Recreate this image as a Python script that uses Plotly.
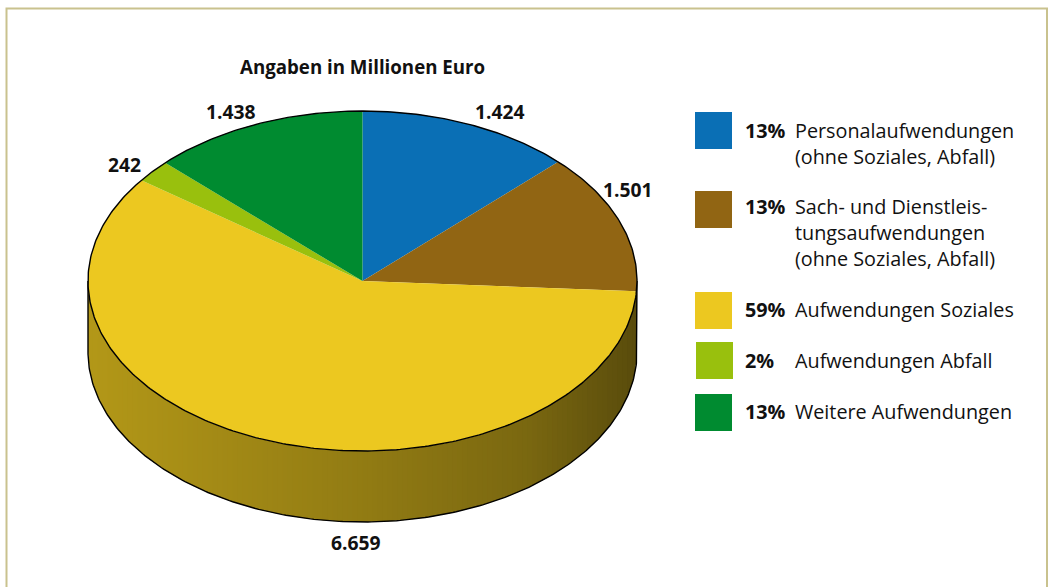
import numpy as np
import plotly.graph_objects as go

categories = ["Personalaufwendungen", "Sach- und Dienstleistungsaufwendungen", "Aufwendungen Soziales", "Aufwendungen Abfall", "Weitere Aufwendungen"]
values = [1424, 1501, 6659, 242, 1438]
percent_labels = ["13%", "13%", "59%", "2%", "13%"]
legend_lines = [
    ["Personalaufwendungen", "(ohne Soziales, Abfall)"],
    ["Sach- und Dienstleis-", "tungsaufwendungen", "(ohne Soziales, Abfall)"],
    ["Aufwendungen Soziales"],
    ["Aufwendungen Abfall"],
    ["Weitere Aufwendungen"],
]
colors = ["#0a6fb5", "#916513", "#ecc820", "#99c00d", "#008b30"]
title = "Angaben in Millionen Euro"

FONT = "Open Sans"
FS = 19.8
cx, cy, rx, ry, depth = 362.5, 281.0, 274.5, 170.0, 71.0
label_pos = [(500, 111), (628, 189), (356, 542), (124, 164), (231, 111)]
swatch_pos = [(695, 112), (695, 191), (695, 292), (696, 342), (695, 394)]
text_y = [130.5, 206.5, 309.5, 360, 411.5]
swatch_size = 37
line_step = 26

fig = go.Figure()


def ex(theta):
    return cx + rx * np.sin(theta)


def ey(theta):
    return cy - ry * np.cos(theta)


# side wall: shaded strips, slice colour per strip
stops_x = np.array([-1.0, 0.0, 0.6, 1.0])
stops_f = np.array([0.76, 0.62, 0.52, 0.38])
edges = np.cumsum([0] + values) / sum(values) * 2 * np.pi
n = 110
ts = np.linspace(-1, 1, n + 1)
base = np.array([int(colors[2][i:i + 2], 16) for i in (1, 3, 5)])
for i in range(n):
    t0, t1 = ts[i], min(ts[i + 1] + 0.004, 1)
    tt = np.linspace(t0, t1, 4)
    xs = cx + rx * tt
    ys = cy + ry * np.sqrt(np.clip(1 - tt ** 2, 0, 1))
    px = np.concatenate([xs, xs[::-1]])
    py = np.concatenate([ys, ys[::-1] + depth])
    f = np.interp((t0 + t1) / 2, stops_x, stops_f)
    r, g, b = (base * f).astype(int)
    fig.add_trace(go.Scatter(x=px, y=py, mode="lines", fill="toself", line=dict(width=0),
                             fillcolor=f"rgb({r},{g},{b})", hoverinfo="skip", showlegend=False))

# side outline
th = np.linspace(np.pi / 2, 3 * np.pi / 2, 240)
ox = np.concatenate([[ex(np.pi / 2)], ex(th), [ex(3 * np.pi / 2)]])
oy = np.concatenate([[cy], ey(th) + depth, [cy]])
fig.add_trace(go.Scatter(x=ox, y=oy, mode="lines", line=dict(color="#000000", width=1.4),
                         hoverinfo="skip", showlegend=False))

# top slices
for i, col in enumerate(colors):
    a = np.linspace(edges[i], edges[i + 1], 120)
    fig.add_trace(go.Scatter(x=np.r_[cx, ex(a), cx], y=np.r_[cy, ey(a), cy], mode="lines",
                             fill="toself", fillcolor=col, line=dict(width=0),
                             name=categories[i], hoverinfo="skip", showlegend=False))

# top outline
a = np.linspace(0, 2 * np.pi, 480)
fig.add_trace(go.Scatter(x=ex(a), y=ey(a), mode="lines", line=dict(color="#000000", width=1.4),
                         hoverinfo="skip", showlegend=False))

ann = []
ann.append(dict(x=362, y=66, text=f"<b>{title}</b>", showarrow=False, xanchor="center", yanchor="middle",
                font=dict(family=FONT, size=18.7, color="#111111")))
for v, (lx, ly) in zip(values, label_pos):
    ann.append(dict(x=lx, y=ly, text="<b>" + f"{v:,}".replace(",", ".") + "</b>", showarrow=False,
                    xanchor="center", yanchor="middle", font=dict(family=FONT, size=19.3, color="#111111")))

shapes = [dict(type="path", path="M 6.5 587 L 6.5 8.5 L 1047 8.5 L 1047 587", line=dict(color="#c9c28e", width=2), layer="below")]
for col, pct, lines, (sx, sy), ty in zip(colors, percent_labels, legend_lines, swatch_pos, text_y):
    shapes.append(dict(type="rect", x0=sx, x1=sx + swatch_size, y0=sy, y1=sy + swatch_size,
                       fillcolor=col, line=dict(width=0)))
    ann.append(dict(x=742.5, y=ty, text=f"<b>{pct}</b>", showarrow=False, xanchor="left", yanchor="middle",
                    font=dict(family=FONT, size=FS, color="#111111")))
    for j, line in enumerate(lines):
        ann.append(dict(x=793, y=ty + j * line_step, text=line, showarrow=False, xanchor="left",
                        yanchor="middle", font=dict(family=FONT, size=FS, color="#111111")))

fig.update_layout(
    width=1052, height=587, margin=dict(l=0, r=0, t=0, b=0),
    paper_bgcolor="white", plot_bgcolor="white", showlegend=False,
    xaxis=dict(range=[0, 1052], visible=False, fixedrange=True),
    yaxis=dict(range=[587, 0], visible=False, fixedrange=True),
    shapes=shapes, annotations=ann,
)
fig.write_html("out.html", config={"displayModeBar": False},
               post_script="document.body.style.margin='0';document.body.style.overflow='hidden';")
